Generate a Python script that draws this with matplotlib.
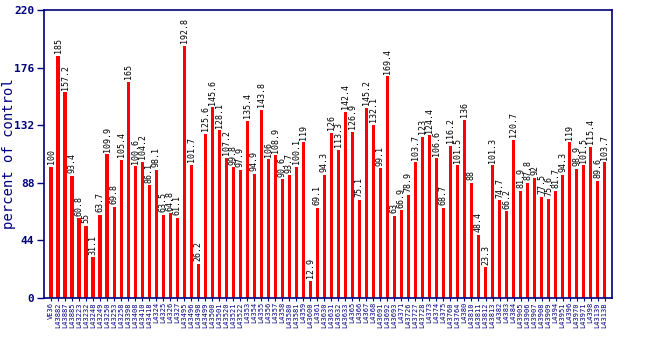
import matplotlib
matplotlib.use("Agg")
import matplotlib.pyplot as plt

# compound labels (best reading of the tiny rotated text)
labels = [
    "VE36", "L43882", "L43887", "L43885", "L43223", "L43232", "L43248", "L43249",
    "L43250", "L43253", "L43258", "L43398", "L43408", "L43410", "L43418", "L4324",
    "L4325", "L4326", "L4327", "L43495", "L43496", "L43498", "L43499", "L43500",
    "L43501", "L43520", "L43521", "L43522", "L4353", "L4354", "L4355", "L4356",
    "L4357", "L4358", "L43580", "L43581", "L4359", "L43600", "L4361", "L43630",
    "L43631", "L43632", "L43633", "L4365", "L4366", "L4367", "L4368", "L43691",
    "L43692", "L43693", "L4371", "L43726", "L43727", "L43728", "L4373", "L4374",
    "L4375", "L43760", "L43764", "L4380", "L43810", "L43811", "L43812", "L43813",
    "L4382", "L4383", "L4384", "L43905", "L43906", "L43907", "L43908", "L43909",
    "L4394", "L43951", "L4396", "L43970", "L43971", "L4398", "L43139", "L4313B",
]

values = [
    100, 185, 157.2, 93.4, 60.8, 55, 31.1, 63.7, 109.9, 69.8,
    105.4, 165, 100.6, 104.2, 86.1, 98.1, 63.5, 64.8, 61.1, 192.8,
    101.7, 26.2, 125.6, 145.6, 128.1, 107.2, 99.8, 97.9, 135.4, 94.9,
    143.8, 106, 108.9, 90.6, 93.7, 100.1, 119, 12.9, 69.1, 94.3,
    126, 113.3, 142.4, 126.9, 75.1, 145.2, 132.1, 99.1, 169.4, 63,
    66.9, 78.9, 103.7, 123, 124.4, 106.6, 68.7, 116.2, 101.5, 136,
    88, 48.4, 23.3, 101.3, 74.7, 66.2, 120.7, 81.9, 87.8, 92,
    77.5, 75.6, 81.7, 94.3, 119, 98.9, 101.5, 115.4, 89.6, 103.7,
]

yticks = [0, 44, 88, 132, 176, 220]

NAVY = "#000080"
MONO = "DejaVu Sans Mono"

fig = plt.figure(figsize=(6.5, 3.5), dpi=100)
ax = fig.add_axes([0.0677, 0.1486, 0.8733, 0.8228])

xs = list(range(1, len(values) + 1))
ax.bar(xs, values, width=0.45, color="#ff0000", zorder=2)

for x, v in zip(xs, values):
    ax.text(x, v + 2, f"{v:g}", rotation=90, ha="center", va="bottom",
            fontsize=6, family=MONO, color="black")

ax.set_xlim(0, len(values) + 1)
ax.set_ylim(0, 220)
ax.set_yticks(yticks)
ax.set_yticklabels([str(t) for t in yticks], family=MONO, fontweight="bold",
                   fontsize=8, color=NAVY)
ax.set_xticks(xs)
ax.set_xticklabels(labels, rotation=90, family=MONO, fontsize=5, color=NAVY)
ax.tick_params(axis="y", length=5, width=1, color=NAVY, pad=2)
ax.tick_params(axis="x", length=2, width=0.8, color=NAVY, pad=1)
for s in ax.spines.values():
    s.set_color(NAVY)
    s.set_linewidth(1.2)

ax.set_ylabel("percent of control", family=MONO, fontsize=10, color=NAVY)
ax.yaxis.set_label_coords(-0.05, 0.5)

fig.savefig("out.png", dpi=100)
